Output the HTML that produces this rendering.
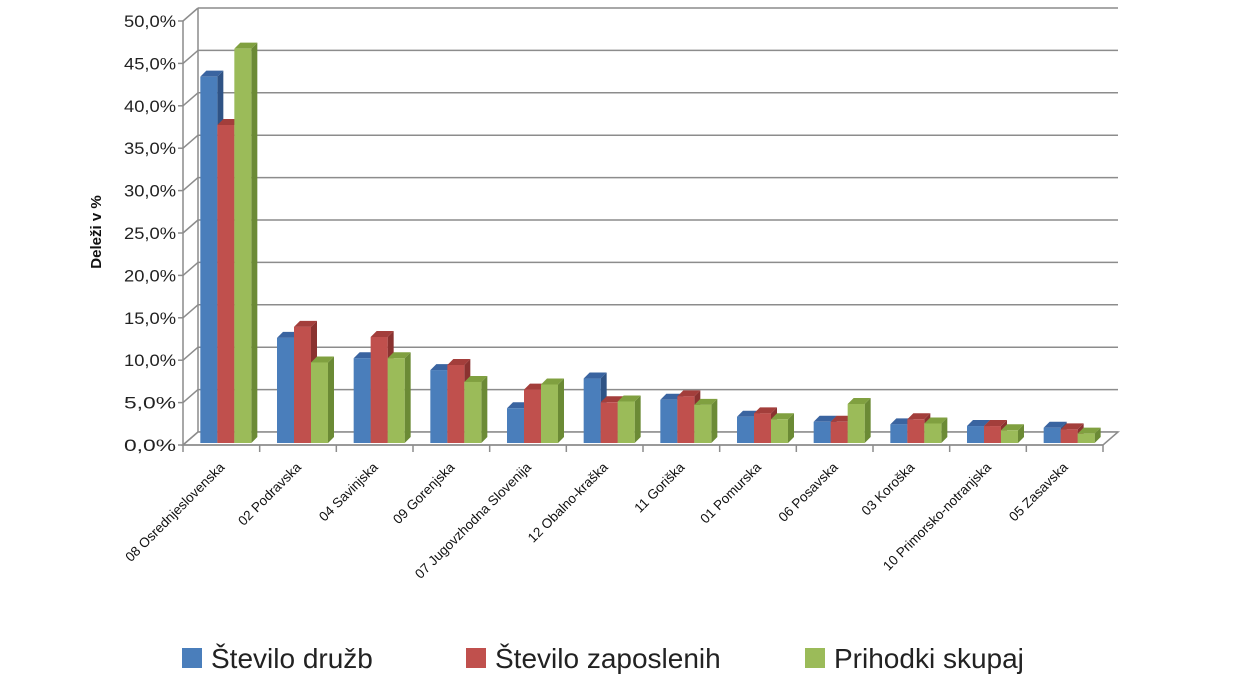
<!DOCTYPE html>
<html><head><meta charset="utf-8"><style>
body{margin:0;background:#fff;}
svg{display:block;font-family:"Liberation Sans",sans-serif;}
</style></head><body>
<svg id="chart" width="1235" height="695" viewBox="0 0 1235 695"></svg>
<script>
const categories=["08 Osrednjeslovenska","02 Podravska","04 Savinjska","09 Gorenjska","07 Jugovzhodna Slovenija","12 Obalno-kraška","11 Goriška","01 Pomurska","06 Posavska","03 Koroška","10 Primorsko-notranjska","05 Zasavska"];
const druzb=[43.2,12.4,10.0,8.6,4.1,7.6,5.1,3.1,2.5,2.2,2.0,1.8];
const zaposlenih=[37.5,13.7,12.5,9.2,6.3,4.8,5.5,3.5,2.5,2.8,2.0,1.6];
const prihodki=[46.5,9.5,10.0,7.2,6.9,4.9,4.5,2.8,4.6,2.3,1.5,1.1];
const yTicks=[0,5,10,15,20,25,30,35,40,45,50];
const seriesNames=["Število družb","Število zaposlenih","Prihodki skupaj"];

const NS="http://www.w3.org/2000/svg";
const svg=document.getElementById('chart');
function mk(tag,attrs,parent){const e=document.createElementNS(NS,tag);for(const k in attrs)e.setAttribute(k,attrs[k]);(parent||svg).appendChild(e);return e;}
const X0=183,X1=1103,Y0=445,YT=21,DX=15,DY=13;
const yF=v=>Y0-(v/50)*(Y0-YT);
const bw=(X1-X0)/categories.length;
const xF=i=>X0+i*bw;
// back wall gridlines
const grid=mk('g',{});

yTicks.forEach(t=>{
  const y=yF(t);
  mk('line',{x1:X0,y1:y,x2:X0+DX,y2:y-DY,stroke:'#8c8c8c','stroke-width':1.5},grid);
  mk('line',{x1:X0+DX,y1:y-DY,x2:X1+DX,y2:y-DY,stroke:'#8c8c8c','stroke-width':1.5},grid);
});
mk('line',{x1:X0+DX,y1:Y0-DY,x2:X0+DX,y2:YT-DY,stroke:'#8c8c8c','stroke-width':1.5},grid);
// floor
mk('polygon',{points:`${X0},${Y0} ${X0+DX},${Y0-DY} ${X1+DX},${Y0-DY} ${X1},${Y0}`,fill:'#fff',stroke:'#8c8c8c','stroke-width':1.5},grid);
// axis
const ax=mk('g',{});
mk('line',{x1:X0,y1:YT,x2:X0,y2:Y0,stroke:'#8c8c8c','stroke-width':1.5},ax);
yTicks.forEach(t=>{const y=yF(t);
  mk('line',{x1:X0-5,y1:y,x2:X0,y2:y,stroke:'#8c8c8c','stroke-width':1.5},ax);
  const tx=mk('text',{x:X0-7,y:y+6,'text-anchor':'end','font-size':17,fill:'#222',textLength:52,lengthAdjust:'spacingAndGlyphs'},ax);
  tx.textContent=t.toFixed(1).replace('.',',')+'%';
  
});
const xa=mk('g',{});
mk('line',{x1:X0,y1:Y0,x2:X1,y2:Y0,stroke:'#8c8c8c','stroke-width':1.5},xa);
for(let i=0;i<=categories.length;i++){mk('line',{x1:xF(i),y1:Y0,x2:xF(i),y2:Y0+7,stroke:'#8c8c8c','stroke-width':1.5},xa);}
categories.forEach((c,i)=>{const cx=xF(i)+bw/2+4,cy=468;
  const t=mk('text',{x:cx,y:cy,'text-anchor':'end','font-size':13.5,fill:'#111',transform:`rotate(-45 ${cx} ${cy})`},xa);
  t.textContent=c;
  
});
const yt=mk('text',{x:101,y:232,'text-anchor':'middle','font-size':15,'font-weight':'bold',fill:'#111',transform:'rotate(-90 101 232)'});
yt.textContent='Deleži v %';

// bars
const series=[druzb,zaposlenih,prihodki];
const cols=[['#4a7ebb','#3a64a0','#2f5385'],['#c0504d','#a33e3b','#8a3230'],['#9bbb59','#80a040','#6b8a35']];
const BW=17,bd=6;
categories.forEach((c,i)=>{
  const g=mk('g',{});
  const start=xF(i)+bw/2-38/2-2;
  series.forEach((s,k)=>{
    const x=start+k*BW,y=yF(s[i])-2,b=Y0-2;
    mk('polygon',{points:`${x+BW},${y} ${x+BW+bd},${y-bd} ${x+BW+bd},${b-bd} ${x+BW},${b}`,fill:cols[k][2]},g);
    mk('polygon',{points:`${x},${y} ${x+bd},${y-bd} ${x+BW+bd},${y-bd} ${x+BW},${y}`,fill:cols[k][1]},g);
    const r=mk('rect',{x:x,y:y,width:BW,height:b-y,fill:cols[k][0]},g);
    
  });
});
// legend
const lg=mk('g',{});
const lx=[182,466,805];
seriesNames.forEach((n,k)=>{
  const e=mk('g',{},lg);
  mk('rect',{x:lx[k],y:648,width:20,height:20,fill:cols[k][0]},e);
  const t=mk('text',{x:lx[k]+29,y:668,'font-size':28,fill:'#222'},e);t.textContent=n;
});
</script>
</body></html>
